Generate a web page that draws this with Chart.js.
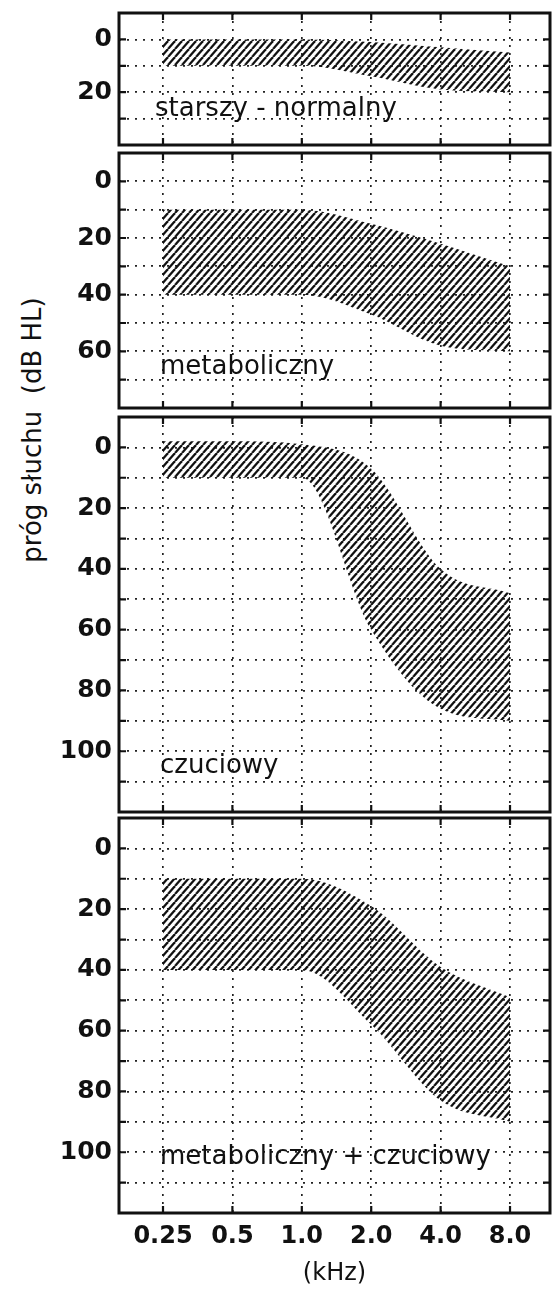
<!DOCTYPE html>
<html>
<head>
<meta charset="utf-8">
<script src="https://cdn.jsdelivr.net/npm/chart.js@4.4.1/dist/chart.umd.min.js"></script>
<style>
  html, body { margin: 0; padding: 0; background: #fff; }
  body { width: 554px; height: 1289px; position: relative; overflow: hidden; font-family: 'DejaVu Sans', sans-serif; }
  canvas.panel { position: absolute; left: 0; }
  #yTitle {
    position: absolute; left: 32px; top: 430px;
    transform: translate(-50%, -50%) rotate(-90deg);
    white-space: pre; font-size: 26px; color: #111;
  }
</style>
</head>
<body>
<div id="yTitle">próg słuchu  (dB HL)</div>
<canvas id="p1" class="panel"></canvas>
<canvas id="p2" class="panel"></canvas>
<canvas id="p3" class="panel"></canvas>
<canvas id="p4" class="panel"></canvas>
<script>
// frequencies (kHz), shown as equally spaced octave steps
const FREQ_LABELS = ['0.25', '0.5', '1.0', '2.0', '4.0', '8.0'];

// hearing threshold ranges (dB HL): upper edge and lower edge of each hatched band
const normalTop = [0, 0, 0, 1, 3, 5];
const normalBottom = [10, 10, 10, 14, 19, 20];

const metabolicTop = [10, 10, 10, 15, 22, 30];
const metabolicBottom = [40, 40, 40, 47, 58, 60];

const sensoryTop = [-2, -2, -1, 7, 40, 48];
const sensoryBottom = [10, 10, 10, 60, 86, 90];

const mixedTop = [10, 10, 10, 19, 39, 49];
const mixedBottom = [40, 40, 40, 58, 83, 90];

const PANEL_NAMES = ['starszy - normalny', 'metaboliczny', 'czuciowy', 'metaboliczny + czuciowy'];
const Y_MAX = [40, 80, 120, 120];

const INK = '#111';
const PAD_TOP = 12;
const TICK = 7;

function makeHatch() {
  const w = 7, h = 8;
  const c = document.createElement('canvas');
  c.width = w;
  c.height = h;
  const g = c.getContext('2d');
  g.strokeStyle = '#111';
  g.lineWidth = 2.3;
  for (const k of [-1, 0, 1]) {
    g.beginPath();
    g.moveTo(k * w, h);
    g.lineTo(k * w + w, 0);
    g.stroke();
  }
  return g.createPattern(c, 'repeat');
}

const framePlugin = {
  id: 'frame',
  afterDraw(chart) {
    const { ctx, chartArea: a, scales: { x, y } } = chart;
    ctx.save();
    ctx.strokeStyle = INK;
    ctx.lineWidth = 2.2;
    ctx.beginPath();
    x.ticks.forEach((t) => {
      const px = x.getPixelForValue(t.value);
      ctx.moveTo(px, a.top); ctx.lineTo(px, a.top + TICK);
      ctx.moveTo(px, a.bottom); ctx.lineTo(px, a.bottom - TICK);
    });
    y.ticks.forEach((t) => {
      const py = y.getPixelForValue(t.value);
      ctx.moveTo(a.left, py); ctx.lineTo(a.left + TICK, py);
      ctx.moveTo(a.right, py); ctx.lineTo(a.right - TICK, py);
    });
    ctx.stroke();
    ctx.lineWidth = 3;
    ctx.strokeRect(a.left, a.top, a.right - a.left, a.bottom - a.top);
    ctx.restore();
  },
};

const namePlugin = {
  id: 'panelName',
  afterDatasetsDraw(chart, args, opts) {
    const { ctx, scales: { x, y } } = chart;
    ctx.save();
    ctx.fillStyle = INK;
    ctx.font = '26px "DejaVu Sans"';
    ctx.textBaseline = 'alphabetic';
    ctx.fillText(opts.text, x.getPixelForValue(0) + opts.dx, y.getPixelForValue(opts.db));
    ctx.restore();
  },
};

const PANELS = [
  { id: 'p1', top: 13, bottom: 145, upper: normalTop, lower: normalBottom, nameDb: 29, nameDx: -8 },
  { id: 'p2', top: 153, bottom: 408, upper: metabolicTop, lower: metabolicBottom, nameDb: 68, nameDx: -3 },
  { id: 'p3', top: 417, bottom: 812, upper: sensoryTop, lower: sensoryBottom, nameDb: 107, nameDx: -3 },
  { id: 'p4', top: 818, bottom: 1213, upper: mixedTop, lower: mixedBottom, nameDb: 104, nameDx: -3 },
];

const hatch = makeHatch();
const toPoints = (arr) => arr.map((v, i) => ({ x: i, y: v }));

PANELS.forEach((p, idx) => {
  const last = idx === PANELS.length - 1;
  const xH = last ? 1289 - p.bottom : 4;
  const canvas = document.getElementById(p.id);
  canvas.width = 554;
  canvas.height = p.bottom - p.top + PAD_TOP + xH;
  canvas.style.top = `${p.top - PAD_TOP}px`;
  const yMax = Y_MAX[idx];

  new Chart(canvas, {
    type: 'line',
    data: {
      datasets: [
        {
          data: toPoints(p.upper),
          fill: '+1',
          backgroundColor: hatch,
          borderColor: 'transparent',
          borderWidth: 0,
          pointRadius: 0,
          cubicInterpolationMode: 'monotone',
        },
        {
          data: toPoints(p.lower),
          fill: false,
          borderColor: 'transparent',
          borderWidth: 0,
          pointRadius: 0,
          cubicInterpolationMode: 'monotone',
        },
      ],
    },
    options: {
      responsive: false,
      animation: false,
      devicePixelRatio: 1,
      events: [],
      layout: { padding: { top: PAD_TOP, right: 4, bottom: 0, left: 0 } },
      plugins: {
        legend: { display: false },
        tooltip: { enabled: false },
        panelName: { text: PANEL_NAMES[idx], db: p.nameDb, dx: p.nameDx },
      },
      scales: {
        x: {
          type: 'linear',
          min: -0.634,
          max: 5.576,
          afterBuildTicks: (s) => { s.ticks = FREQ_LABELS.map((_, i) => ({ value: i })); },
          afterFit: (s) => { s.height = xH; s.paddingLeft = 0; s.paddingRight = 0; },
          grid: { color: '#222', lineWidth: 1.7, drawTicks: false },
          border: { display: false, dash: [2, 6] },
          ticks: {
            display: last,
            autoSkip: false,
            maxRotation: 0,
            padding: 9,
            color: INK,
            font: { family: 'DejaVu Sans', weight: 'bold', size: 24 },
            callback: (v) => FREQ_LABELS[v] ?? '',
          },
          title: {
            display: last,
            text: '(kHz)',
            color: INK,
            font: { family: 'DejaVu Sans', size: 24 },
            padding: { top: 0, bottom: 1 },
          },
        },
        y: {
          type: 'linear',
          reverse: true,
          min: -10,
          max: yMax,
          afterFit: (s) => { s.width = 119; s.paddingTop = 0; s.paddingBottom = 0; },
          grid: { color: '#222', lineWidth: 1.7, drawTicks: false },
          border: { display: false, dash: [2, 6] },
          ticks: {
            stepSize: 10,
            autoSkip: false,
            padding: 7,
            color: INK,
            font: { family: 'DejaVu Sans', weight: 'bold', size: 25 },
            callback: (v) => (v >= 0 && v < yMax && v % 20 === 0 ? String(v) : ''),
          },
        },
      },
    },
    plugins: [framePlugin, namePlugin],
  });
});
</script>
</body>
</html>
